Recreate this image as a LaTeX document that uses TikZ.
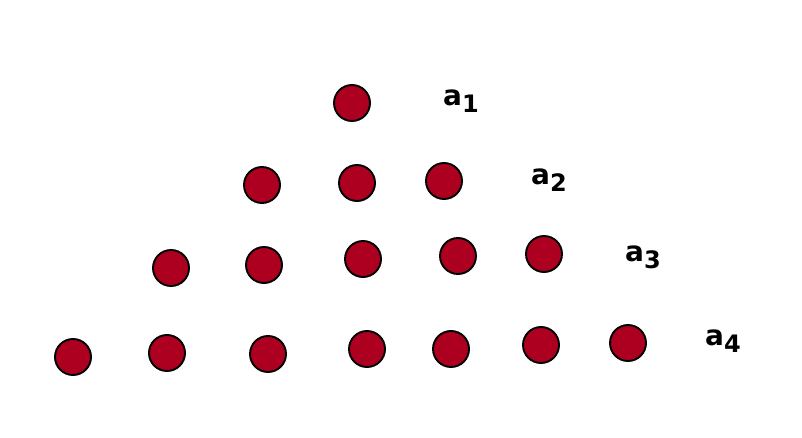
\documentclass[tikz,border=0pt]{standalone}
\usepackage{fontspec}
\setmainfont{DejaVu Sans}
\definecolor{dotred}{HTML}{AD0020}
\newcommand{\sublabel}[1]{a\raisebox{-7pt}{\fontsize{24}{26}\selectfont #1}}

\begin{document}
\begin{tikzpicture}[x=1pt, y=-1pt,
	dot/.style={circle, draw=black, line width=1.9pt, fill=dotred, minimum size=36pt, inner sep=0pt},
	rowlabel/.style={font=\fontsize{28}{30}\selectfont\bfseries, inner sep=0pt}]
	\useasboundingbox (0,0) rectangle (802,438);
	% row 1
	\node[dot] (d11) at (352,103) {};
	% row 2
	\node[dot] (d21) at (262,185) {};
	\node[dot] (d22) at (357,183) {};
	\node[dot] (d23) at (444,181) {};
	% row 3
	\node[dot] (d31) at (171,268) {};
	\node[dot] (d32) at (264,265) {};
	\node[dot] (d33) at (363,259) {};
	\node[dot] (d34) at (458,256) {};
	\node[dot] (d35) at (544,254) {};
	% row 4
	\node[dot] (d41) at (73,357) {};
	\node[dot] (d42) at (167,353) {};
	\node[dot] (d43) at (268,354) {};
	\node[dot] (d44) at (367,349) {};
	\node[dot] (d45) at (451,349) {};
	\node[dot] (d46) at (541,345) {};
	\node[dot] (d47) at (628,343) {};
	% labels
	\node[rowlabel] (a1) at (461,101) {\sublabel{1}};
	\node[rowlabel] (a2) at (549,180) {\sublabel{2}};
	\node[rowlabel] (a3) at (643,257) {\sublabel{3}};
	\node[rowlabel] (a4) at (723,341) {\sublabel{4}};
\end{tikzpicture}
\end{document}
